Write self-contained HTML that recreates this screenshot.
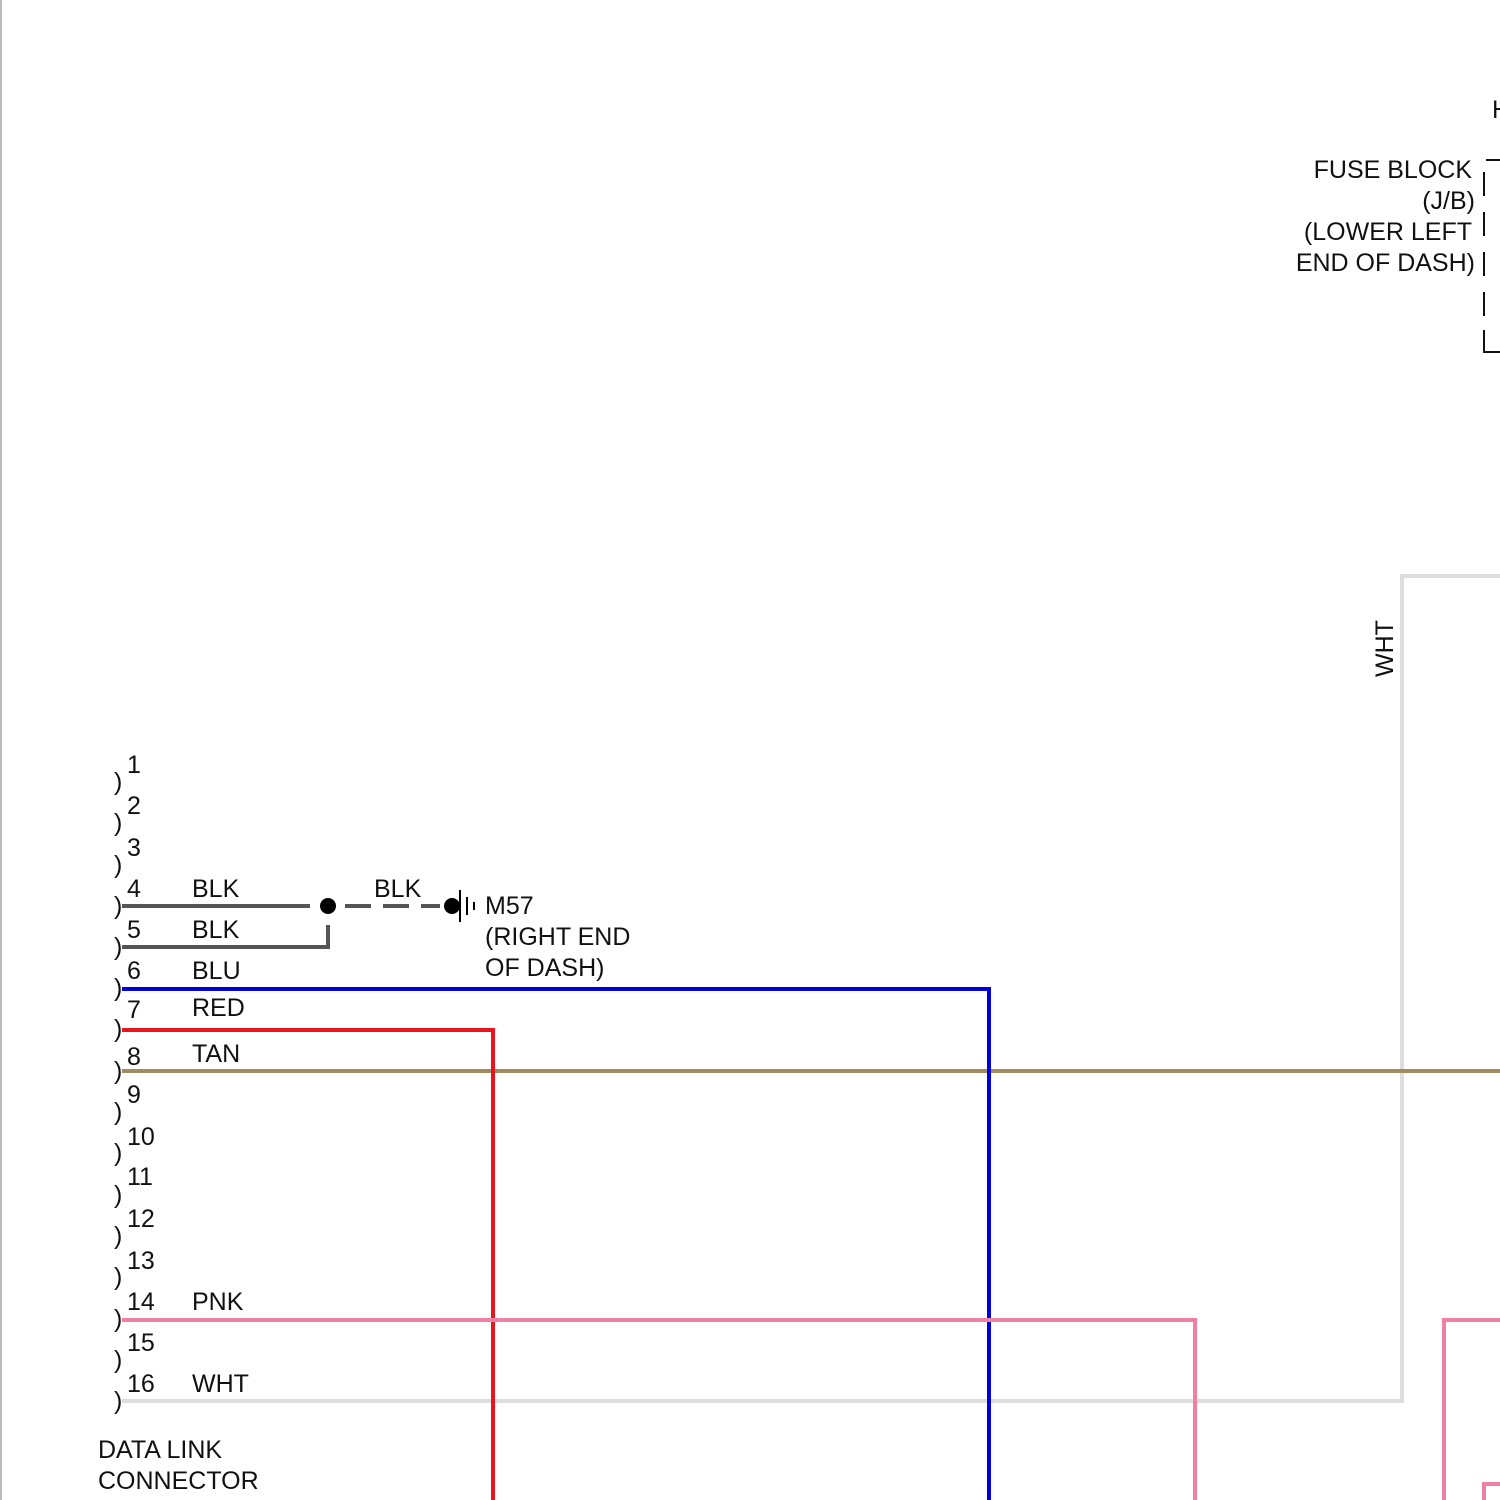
<!DOCTYPE html>
<html><head><style>
body{margin:0;background:#fff}
svg{display:block}
text{font-family:"Liberation Sans",sans-serif;font-size:25px;fill:#111}
</style></head><body>
<svg width="1500" height="1500" viewBox="0 0 1500 1500">
<rect width="1500" height="1500" fill="#fff"/>
<line x1="1" y1="0" x2="1" y2="1500" stroke="#bbb" stroke-width="2"/>
<g fill="none" stroke-width="4">
<polyline points="122,1401 1402,1401 1402,576 1500,576" stroke="#ddd"/>
<line x1="122" y1="1071" x2="1500" y2="1071" stroke="#a08c60"/>
<polyline points="122,989 989,989 989,1500" stroke="#0000dd"/>
<polyline points="122,1030 493,1030 493,1500" stroke="#e8141e"/>
<polyline points="122,1320 1195,1320 1195,1500" stroke="#f07fa3"/>
<polyline points="1444,1500 1444,1320 1500,1320" stroke="#f07fa3"/>
<polyline points="1484,1500 1484,1484 1500,1484" stroke="#f07fa3"/>
<line x1="122" y1="906" x2="310" y2="906" stroke="#555"/>
<polyline points="122,947 328,947 328,925" stroke="#555"/>
<line x1="345" y1="906" x2="440" y2="906" stroke="#555" stroke-dasharray="26,12"/>
</g>
<circle cx="328" cy="906" r="8" fill="#000"/>
<circle cx="452" cy="906" r="8" fill="#000"/>
<line x1="460" y1="890" x2="460" y2="922" stroke="#000" stroke-width="2"/>
<line x1="467" y1="897" x2="467" y2="915" stroke="#000" stroke-width="2"/>
<line x1="474" y1="902" x2="474" y2="910" stroke="#000" stroke-width="2"/>
<g fill="none" stroke="#111" stroke-width="2">
<path d="M1486,160 H1500"/>
<path d="M1484,172 V196 M1484,212 V236 M1484,252 V276 M1484,292 V316 M1484,330 V352 H1500"/>
</g>
<text x="1492" y="118">H</text>
<g text-anchor="end">
<text x="1472" y="178">FUSE BLOCK</text>
<text x="1475" y="209">(J/B)</text>
<text x="1472" y="240">(LOWER LEFT</text>
<text x="1475" y="271">END OF DASH)</text>
</g>
<text transform="translate(1393,677) rotate(-90)">WHT</text>
<g style="font-size:32px;font-weight:200">
<text x="114" y="790">)</text><text x="114" y="831">)</text><text x="114" y="873">)</text>
<text x="114" y="914">)</text><text x="114" y="955">)</text><text x="114" y="996">)</text>
<text x="114" y="1037">)</text><text x="114" y="1079">)</text><text x="114" y="1120">)</text>
<text x="114" y="1161">)</text><text x="114" y="1203">)</text><text x="114" y="1244">)</text>
<text x="114" y="1285">)</text><text x="114" y="1327">)</text><text x="114" y="1368">)</text>
<text x="114" y="1409">)</text>
</g>
<text x="127" y="773">1</text><text x="127" y="814">2</text><text x="127" y="856">3</text>
<text x="127" y="897">4</text><text x="127" y="938">5</text><text x="127" y="979">6</text>
<text x="127" y="1018">7</text><text x="127" y="1065">8</text><text x="127" y="1103">9</text>
<text x="127" y="1145">10</text><text x="127" y="1185">11</text><text x="127" y="1227">12</text>
<text x="127" y="1269">13</text><text x="127" y="1310">14</text><text x="127" y="1351">15</text>
<text x="127" y="1392">16</text>
<text x="192" y="897">BLK</text><text x="192" y="938">BLK</text><text x="192" y="979">BLU</text>
<text x="192" y="1016">RED</text><text x="192" y="1062">TAN</text><text x="192" y="1310">PNK</text>
<text x="192" y="1392">WHT</text>
<text x="374" y="897">BLK</text>
<text x="485" y="914">M57</text>
<text x="485" y="945">(RIGHT END</text>
<text x="485" y="976">OF DASH)</text>
<text x="98" y="1458">DATA LINK</text>
<text x="98" y="1489">CONNECTOR</text>
</svg>
</body></html>
